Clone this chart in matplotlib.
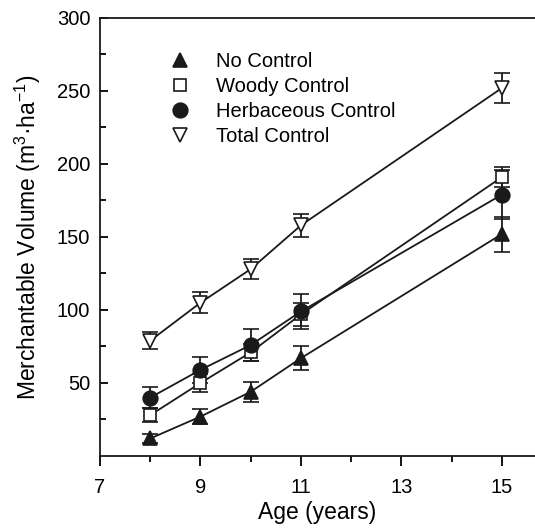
import matplotlib.pyplot as plt
from matplotlib.lines import Line2D

plt.rcParams['font.family'] = ['Liberation Sans', 'DejaVu Sans']
plt.rcParams['mathtext.fontset'] = 'custom'
plt.rcParams['mathtext.rm'] = 'Liberation Sans'

ages = [8, 9, 10, 11, 15]

no_control = [12, 27, 44, 67, 152]
no_control_err = [3, 5, 7, 8, 12]

woody = [28, 50, 71, 97, 191]
woody_err = [5, 6, 6, 8, 7]

herbaceous = [40, 59, 76, 99, 179]
herbaceous_err = [7, 9, 11, 12, 17]

total = [79, 105, 128, 158, 252]
total_err = [6, 7, 7, 8, 10]

series = [
    ("No Control", no_control, no_control_err, "^", "#1a1a1a"),
    ("Woody Control", woody, woody_err, "s", "white"),
    ("Herbaceous Control", herbaceous, herbaceous_err, "o", "#1a1a1a"),
    ("Total Control", total, total_err, "v", "white"),
]

fig = plt.figure(figsize=(5.35, 5.29), dpi=100)
ax = fig.add_axes([0.187, 0.138, 0.813, 0.828])

handles = []
for name, vals, errs, mk, fc in series:
    ax.errorbar(ages, vals, yerr=errs, color="#1a1a1a", lw=1.3,
                marker=mk, ms=10.5 if mk != "s" else 8.5, mfc=fc, mec="#1a1a1a",
                mew=1.2, capsize=6, capthick=1.3, elinewidth=1.3)
    handles.append(Line2D([], [], ls="none", marker=mk, ms=10.5 if mk != "s" else 8,
                          mfc=fc, mec="#1a1a1a", mew=1.2, label=name))

ax.set_xlim(7, 15.66)
ax.set_ylim(0, 300)
ax.set_xticks([7, 9, 11, 13, 15])
ax.set_xticks([8, 10, 12, 14], minor=True)
ax.set_yticks([50, 100, 150, 200, 250, 300])
ax.set_yticks([25, 75, 125, 175, 225, 275], minor=True)

ax.spines["right"].set_visible(False)
for s in ["left", "bottom", "top"]:
    ax.spines[s].set_linewidth(1.3)
    ax.spines[s].set_color("#1a1a1a")

ax.tick_params(axis="x", which="major", direction="out", length=7, width=1.3, labelsize=14.5, pad=9)
ax.tick_params(axis="x", which="minor", direction="out", length=4, width=1.3)
ax.tick_params(axis="y", which="major", direction="in", length=6, width=1.3, labelsize=14.5, pad=7)
ax.tick_params(axis="y", which="minor", direction="in", length=4, width=1.3)
ax.tick_params(axis="x", which="both", top=False)

ax.set_xlabel("Age (years)", fontsize=16.5, labelpad=3)
ax.set_ylabel("Merchantable Volume (m$^{3}$·ha$^{-1}$)", fontsize=16.5, labelpad=10)

ax.legend(handles=handles, loc="upper left", bbox_to_anchor=(0.11, 0.963),
          frameon=False, fontsize=14.5, handletextpad=1.1, labelspacing=0.3,
          handlelength=1.4)

fig.savefig("out.png", dpi=100)
